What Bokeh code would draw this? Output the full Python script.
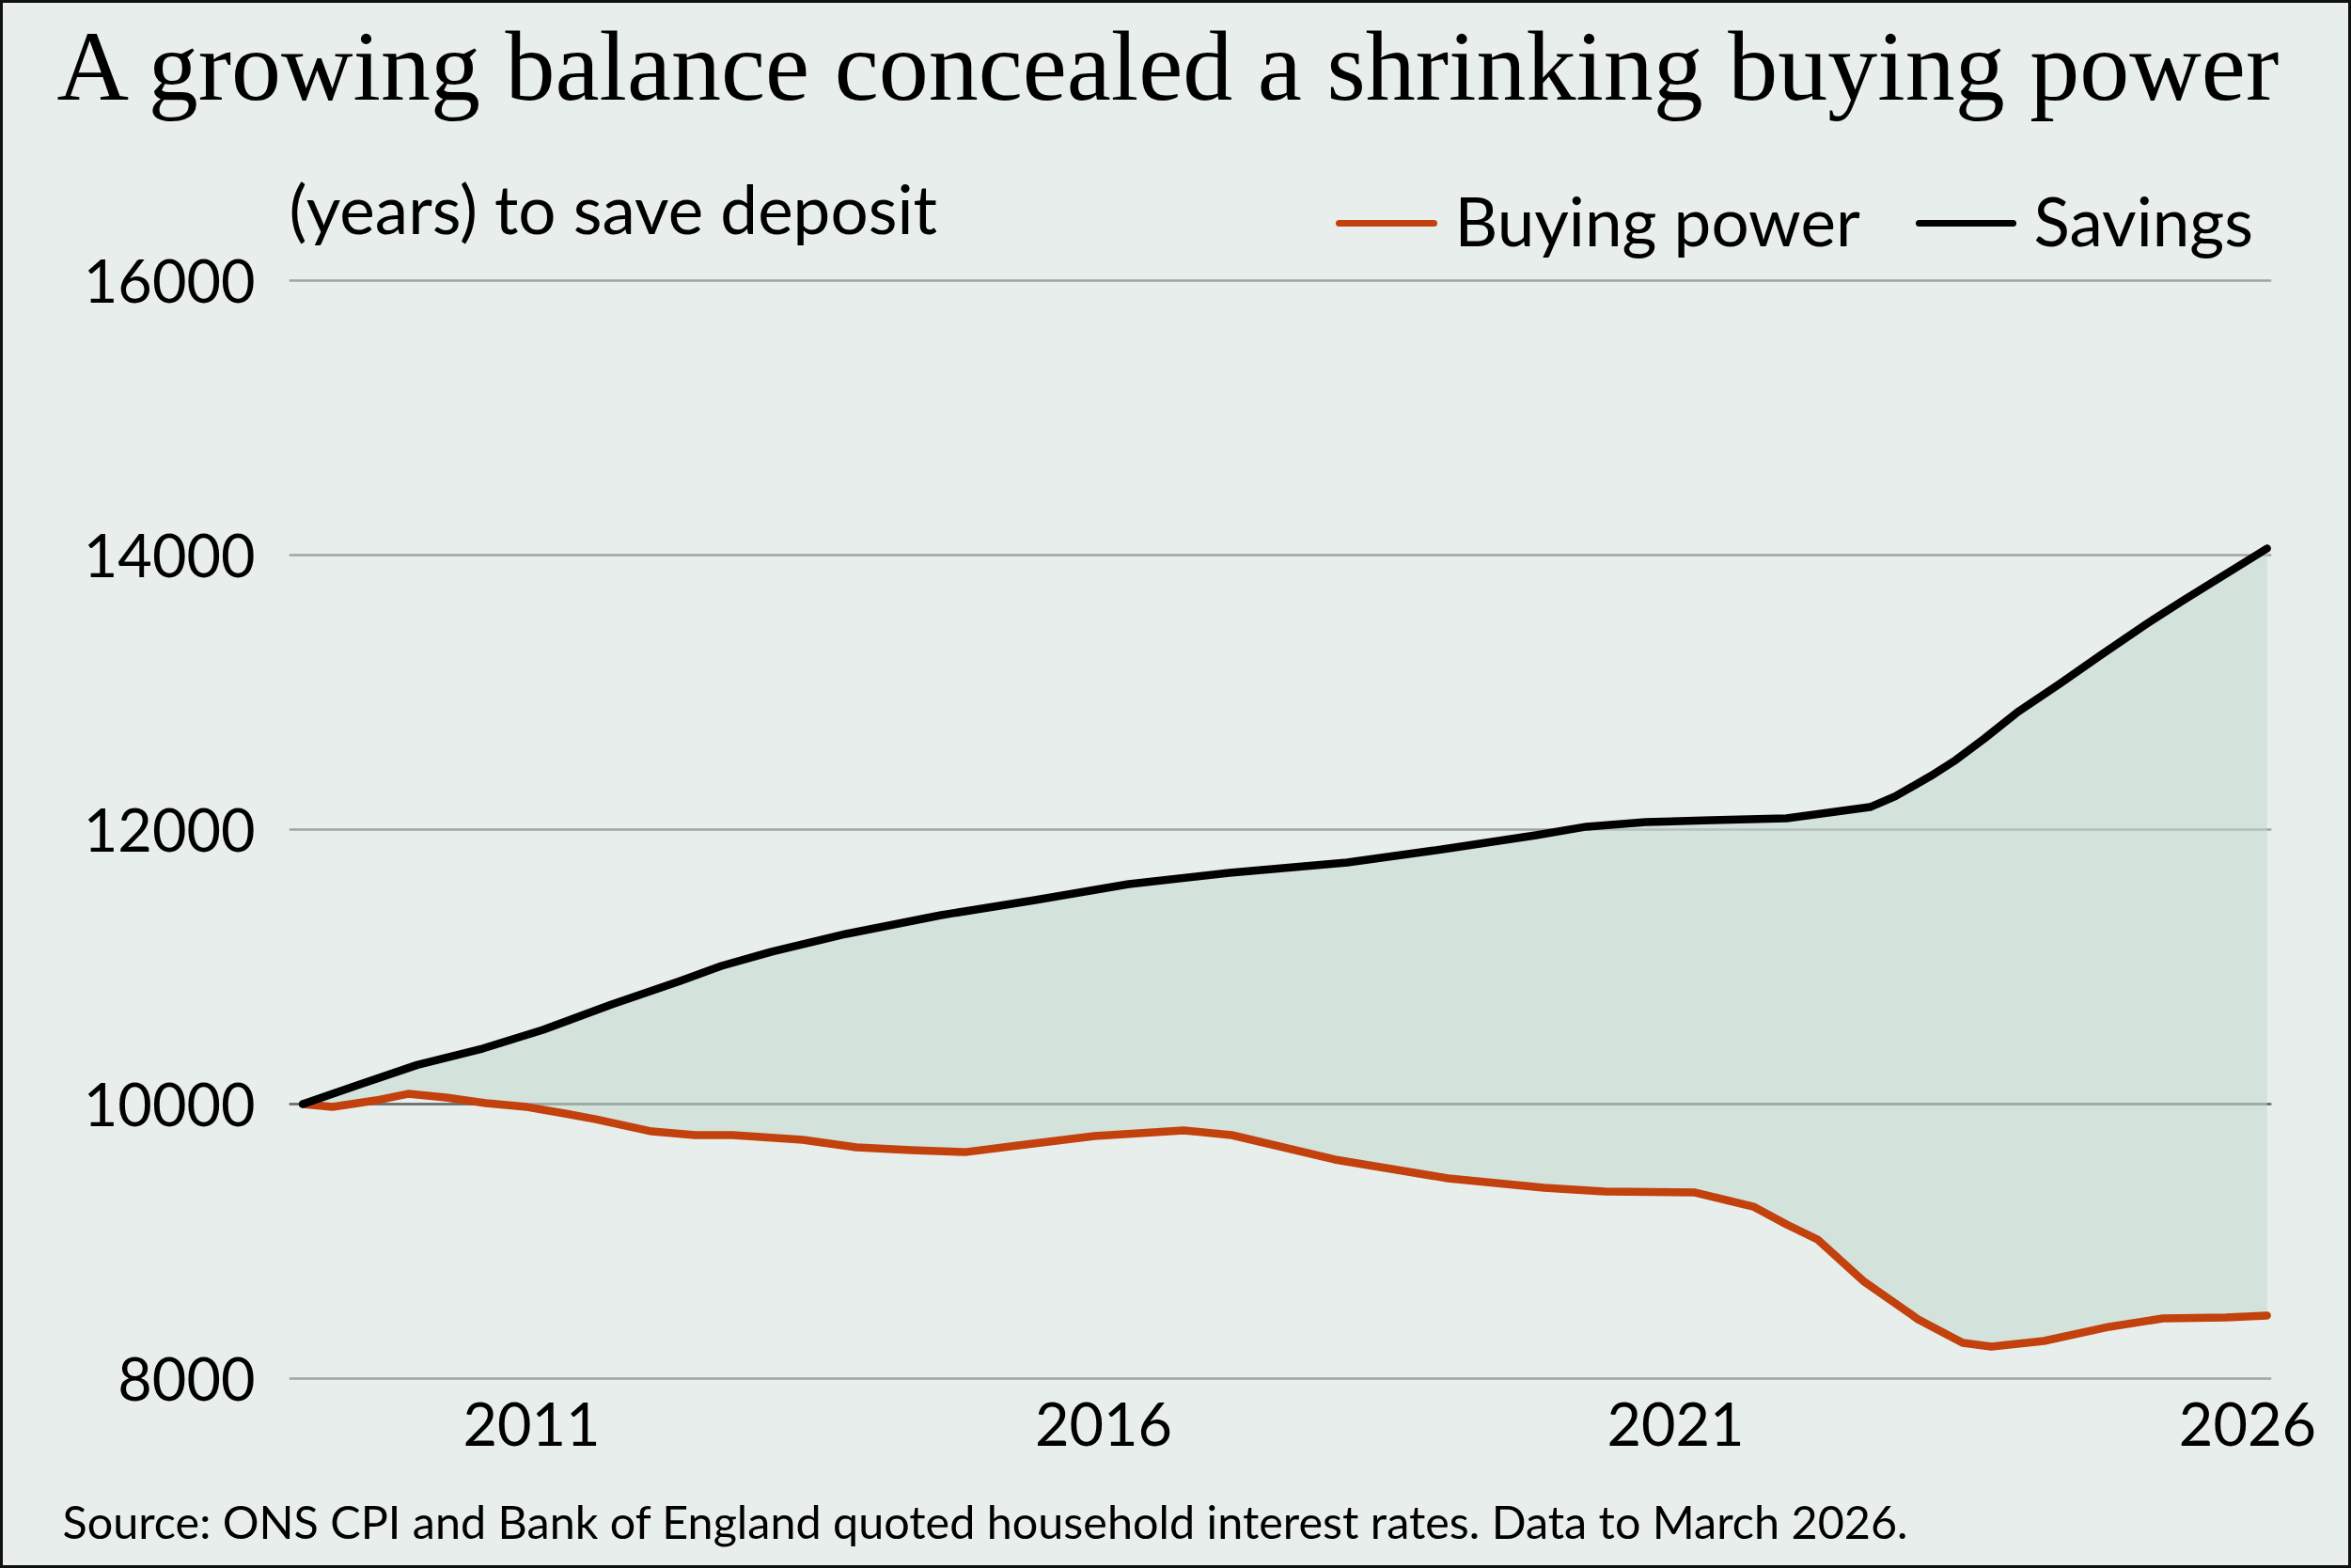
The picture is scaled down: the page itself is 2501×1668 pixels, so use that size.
from bokeh.plotting import figure
from bokeh.layouts import column
from bokeh.models import Label, Arrow, Span, FixedTicker, Range1d
from bokeh.embed import file_html
from bokeh.resources import INLINE

# ---------------- data ----------------
savings_year = [2009.0, 2009.5, 2010.0, 2010.57, 2011.1, 2011.7, 2012.3, 2012.66,
                2013.1, 2013.75, 2014.58, 2015.4, 2016.22, 2017.1, 2018.13, 2018.96,
                2019.78, 2020.22, 2020.74, 2021.31, 2021.97, 2022.7, 2022.92, 2023.23,
                2023.45, 2023.7, 2023.99, 2024.36, 2024.71, 2025.12, 2025.44, 2026.17]
savings = [10000, 10144, 10285, 10404, 10541, 10726, 10897, 11007,
           11110, 11240, 11377, 11486, 11603, 11685, 11760, 11856,
           11959, 12021, 12055, 12068, 12082, 12164, 12242, 12390,
           12507, 12664, 12856, 13064, 13267, 13500, 13671, 14048]

power_year = [2009.0, 2009.26, 2009.64, 2009.92, 2010.25, 2010.6, 2010.96, 2011.3,
              2011.56, 2012.05, 2012.43, 2012.76, 2013.37, 2013.84, 2014.32, 2014.79,
              2015.27, 2015.92, 2016.7, 2017.12, 2018.02, 2019.01, 2019.85, 2020.38,
              2021.17, 2021.68, 2021.97, 2022.24, 2022.65, 2023.12, 2023.51, 2023.76,
              2024.22, 2024.79, 2025.26, 2025.81, 2026.17]
buying_power = [10000, 9979, 10027, 10075, 10048, 10007, 9979, 9930,
                9890, 9801, 9774, 9774, 9740, 9685, 9664, 9650,
                9700, 9767, 9808, 9774, 9596, 9459, 9390, 9363,
                9356, 9253, 9123, 9014, 8705, 8432, 8260, 8233,
                8274, 8377, 8438, 8445, 8459]

x_ticks = [2011, 2016, 2021, 2026]
x_tick_labels = ["2011", "2016", "2021", "2026"]
y_ticks = [8000, 10000, 12000, 14000, 16000]
y_tick_labels = ["8000", "10000", "12000", "14000", "16000"]

title_text = "A growing balance concealed a shrinking buying power"
subtitle_text = "(years) to save deposit"
source_text = "Source: ONS CPI and Bank of England quoted household interest rates. Data to March 2026."
series_names = ["Buying power", "Savings"]

# ---------------- styling / layout ----------------
BG = "#e7eeeb"
FILL = "#c2d9ce"
ORANGE = "#c2410c"
BLACK = "#000000"
GRID = "#a3a3a3"
SANS = "Lato"
SERIF = "Liberation Serif"
OFF = 3                       # outer border width
BASE_SHIFT = 0.37             # label anchor correction (fraction of font size)

TITLE_SIZE = 106
TEXT_SIZE = 71
SOURCE_SIZE = 48.5

W = 2495
PAGE_FRAME_TOP = 180
PAGE_FRAME_BOTTOM = 1468
PAGE_FRAME_LEFT = 307
PAGE_FRAME_RIGHT = 2416
PAGE_FOOTER_TOP = 1580
H1 = PAGE_FRAME_TOP - OFF
H2 = PAGE_FOOTER_TOP - PAGE_FRAME_TOP
H3 = 1668 - 2 * OFF - H1 - H2

PX_PER_UNIT = 292 / 2000.0
Y_AT_16000 = 298
X0, X1 = 2008.88, 2026.21
PX_PER_YEAR = (PAGE_FRAME_RIGHT - PAGE_FRAME_LEFT) / (X1 - X0)
Y1 = 16000 + (Y_AT_16000 - PAGE_FRAME_TOP) / PX_PER_UNIT
Y0 = Y1 - (PAGE_FRAME_BOTTOM - PAGE_FRAME_TOP) / PX_PER_UNIT


def dx(px):
    return X0 + (px - PAGE_FRAME_LEFT) / PX_PER_YEAR


def dy(py):
    return Y1 - (py - PAGE_FRAME_TOP) / PX_PER_UNIT


def plain(fig):
    fig.background_fill_color = BG
    fig.border_fill_color = BG
    fig.outline_line_color = None
    fig.min_border = 0
    fig.frame_align = False
    return fig


# ---------------- header (title) ----------------
head = plain(figure(width=W, height=H1, x_range=Range1d(0, W), y_range=Range1d(H1, 0),
                    x_axis_type=None, y_axis_type=None, output_backend="svg",
                    toolbar_location=None, title=None))
head.grid.visible = False
head.add_layout(Label(x=60 - OFF, y=109 - OFF - BASE_SHIFT * TITLE_SIZE, text=title_text,
                      text_font=SERIF, text_font_size=f"{TITLE_SIZE}px", text_color="#000000",
                      text_baseline="alphabetic", text_align="left"))

# ---------------- main chart ----------------
p = plain(figure(width=W, height=H2, x_range=Range1d(X0, X1), y_range=Range1d(Y0, Y1),
                 output_backend="svg", toolbar_location=None, title=None))
p.min_border_left = PAGE_FRAME_LEFT - OFF
p.min_border_right = W - (PAGE_FRAME_RIGHT - OFF)
p.min_border_top = 0
p.min_border_bottom = PAGE_FOOTER_TOP - PAGE_FRAME_BOTTOM

p.xgrid.grid_line_color = None
p.ygrid.ticker = FixedTicker(ticks=y_ticks)
p.ygrid.grid_line_color = GRID
p.ygrid.grid_line_width = 2.5

for ax in (p.xaxis[0], p.yaxis[0]):
    ax.axis_line_color = None
    ax.major_tick_line_color = None
    ax.minor_tick_line_color = None
    ax.major_tick_out = 0
    ax.major_label_text_font = SANS
    ax.major_label_text_font_size = "63px"
    ax.major_label_text_color = "#000000"
p.xaxis.ticker = FixedTicker(ticks=x_ticks)
p.xaxis.major_label_overrides = dict(zip(x_ticks, x_tick_labels))
p.xaxis.major_label_standoff = 23
p.yaxis.ticker = FixedTicker(ticks=y_ticks)
p.yaxis.major_label_overrides = dict(zip(y_ticks, y_tick_labels))
p.yaxis.major_label_standoff = 36

p.add_layout(Span(location=10000, dimension="width", line_color="#6a6a6a",
                  line_width=2.5, level="underlay"))

p.patch(x=savings_year + power_year[::-1], y=savings + buying_power[::-1],
        fill_color=FILL, fill_alpha=0.55, line_color=None)
p.line(power_year, buying_power, line_color=ORANGE, line_width=8.5,
       line_join="round", line_cap="round")
p.line(savings_year, savings, line_color=BLACK, line_width=8.5,
       line_join="round", line_cap="round")

# subtitle and legend (inside the main frame, above the 16000 line)
shift = BASE_SHIFT * TEXT_SIZE
p.add_layout(Label(x=dx(307), y=dy(247 - shift), text=subtitle_text, text_font=SANS,
                   text_font_size=f"{TEXT_SIZE}px", text_color="#000000",
                   text_baseline="alphabetic", text_align="left"))
p.add_layout(Arrow(end=None, x_start=dx(1424), x_end=dx(1525), y_start=dy(237), y_end=dy(237),
                   line_color=ORANGE, line_width=7, line_cap="round"))
p.add_layout(Label(x=dx(1547), y=dy(260 - shift), text=series_names[0], text_font=SANS,
                   text_font_size=f"{TEXT_SIZE}px", text_color="#000000",
                   text_baseline="alphabetic", text_align="left"))
p.add_layout(Arrow(end=None, x_start=dx(2041), x_end=dx(2141), y_start=dy(237), y_end=dy(237),
                   line_color=BLACK, line_width=7, line_cap="round"))
p.add_layout(Label(x=dx(2163), y=dy(260 - shift), text=series_names[1], text_font=SANS,
                   text_font_size=f"{TEXT_SIZE}px", text_color="#000000",
                   text_baseline="alphabetic", text_align="left"))

# ---------------- footer (source) ----------------
foot = plain(figure(width=W, height=H3, x_range=Range1d(0, W), y_range=Range1d(H3, 0),
                    x_axis_type=None, y_axis_type=None, output_backend="svg",
                    toolbar_location=None, title=None))
foot.grid.visible = False
foot.add_layout(Label(x=66 - OFF, y=1635 - PAGE_FOOTER_TOP - BASE_SHIFT * SOURCE_SIZE,
                      text=source_text, text_font=SANS,
                      text_font_size=f"{SOURCE_SIZE}px", text_color="#000000",
                      text_baseline="alphabetic", text_align="left"))

page = column(head, p, foot, spacing=0)
page.styles = {"border": "3px solid #111111", "background-color": BG}

open("out.html", "w").write(file_html(page, INLINE))
